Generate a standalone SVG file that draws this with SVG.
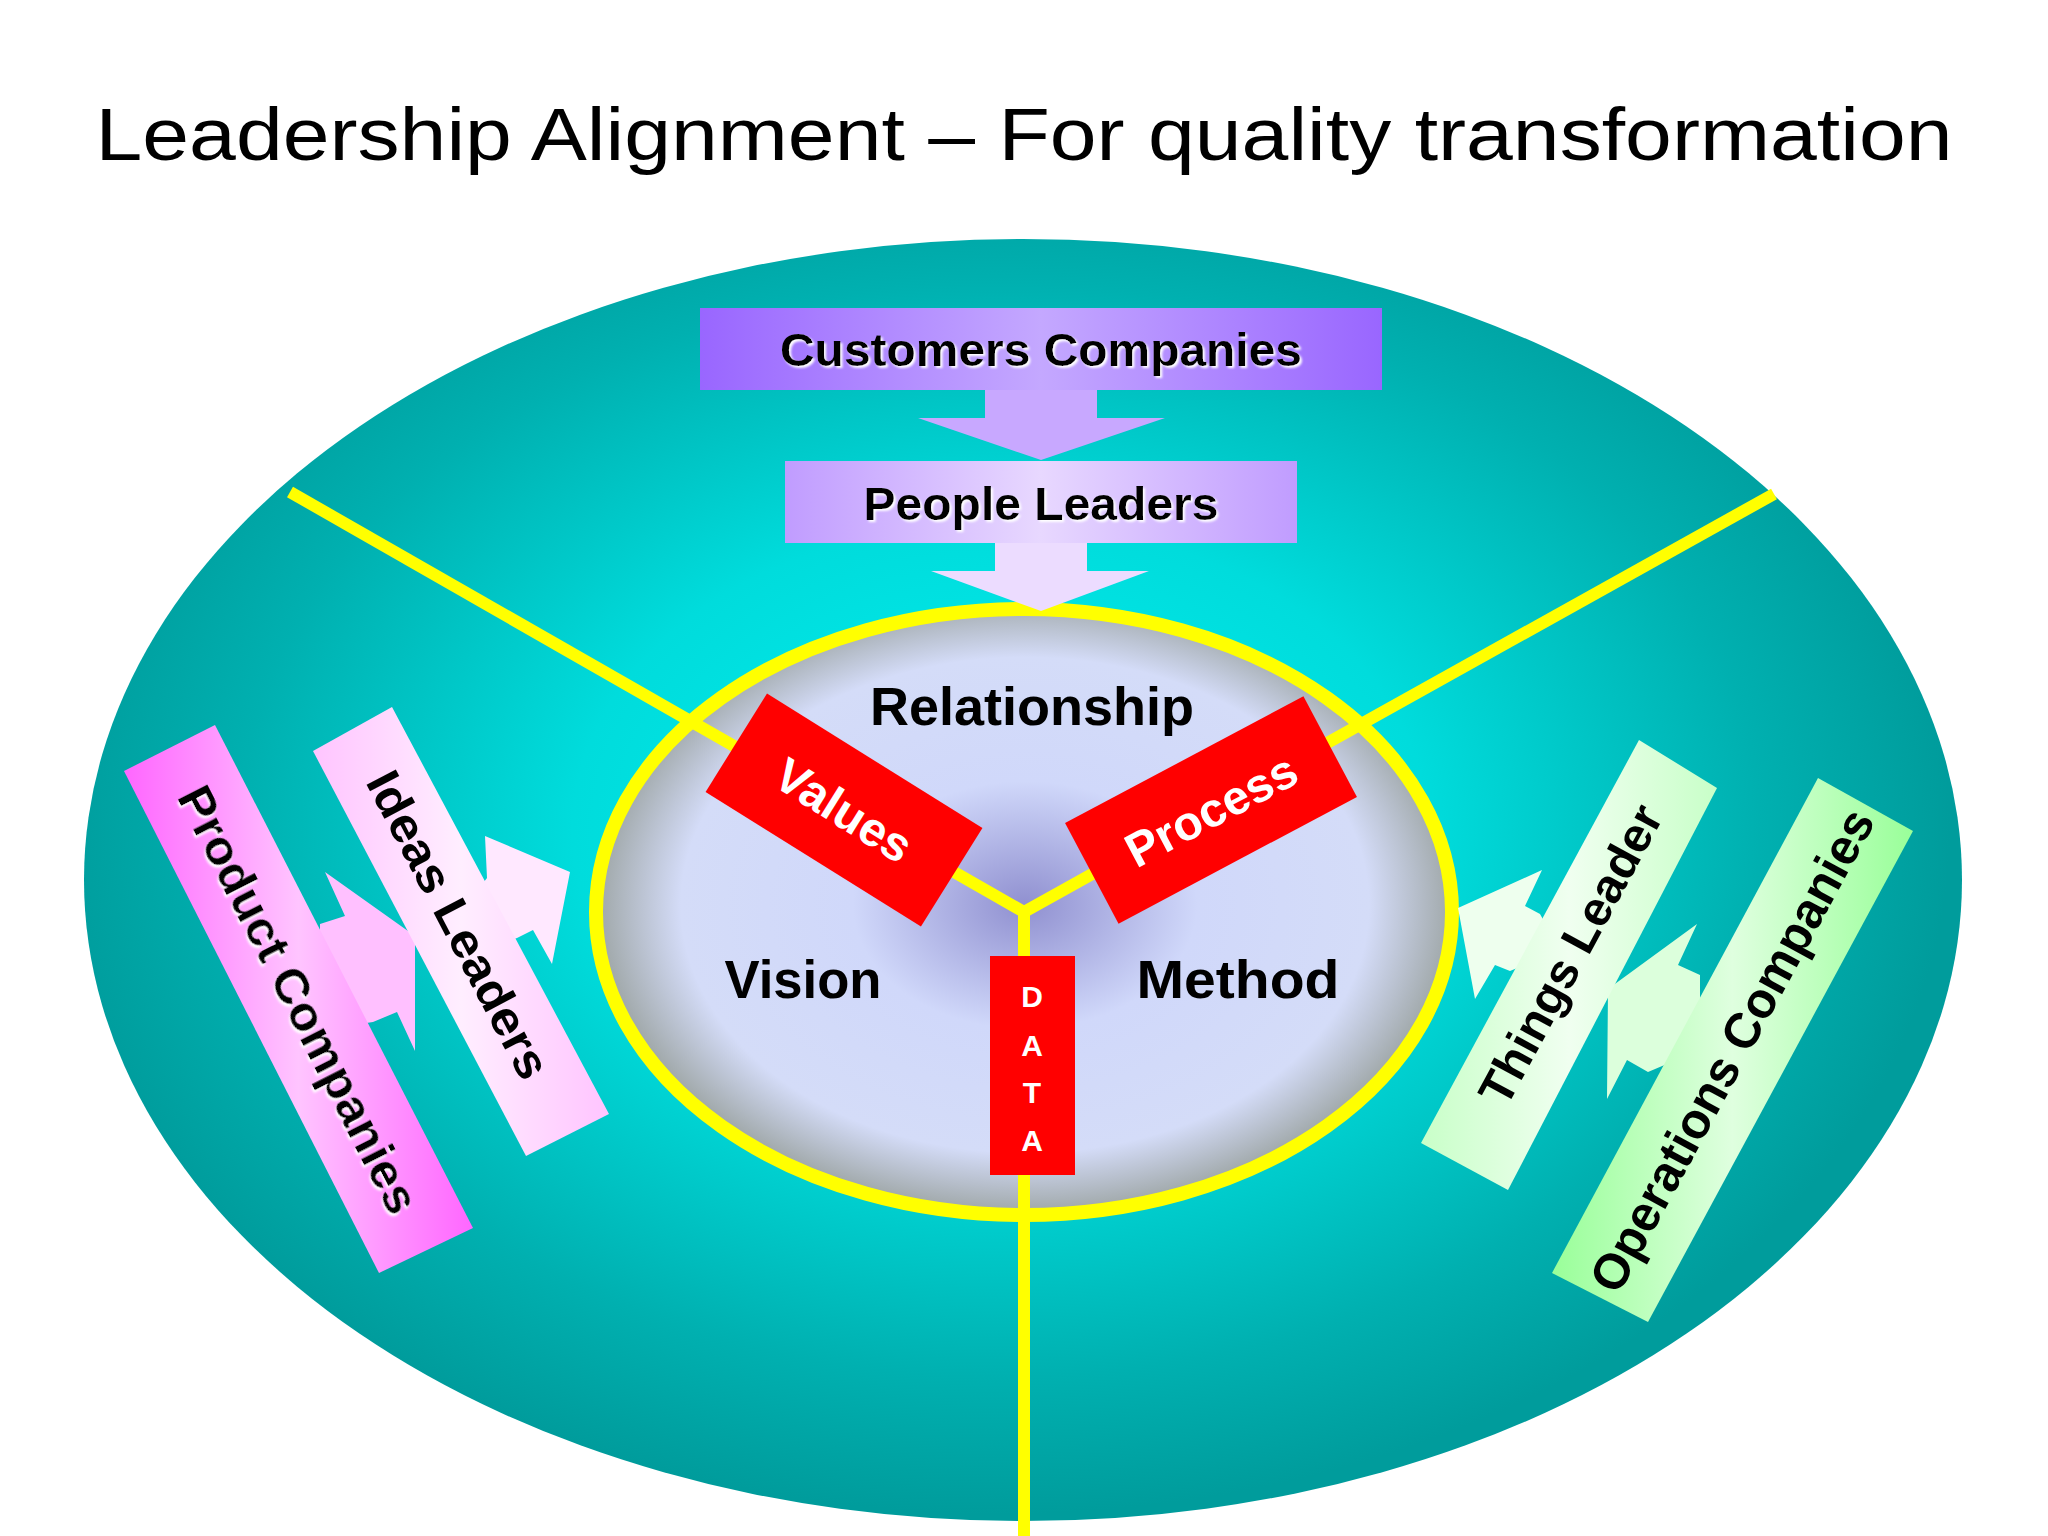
<svg xmlns="http://www.w3.org/2000/svg" width="2048" height="1536" viewBox="0 0 2048 1536">
<defs>
<radialGradient id="gBig" cx="1000" cy="830" r="950" gradientUnits="userSpaceOnUse" gradientTransform="translate(1000 830) scale(1 0.72) translate(-1000 -830)">
<stop offset="0" stop-color="#00f0f0"/><stop offset="0.45" stop-color="#00dcdc"/><stop offset="0.8" stop-color="#00b0b0"/><stop offset="1" stop-color="#009c9c"/>
</radialGradient>
<radialGradient id="gIn" cx="1025" cy="905" r="430" gradientUnits="userSpaceOnUse" gradientTransform="translate(1025 905) scale(1 0.72) translate(-1025 -905)">
<stop offset="0" stop-color="#9090d0"/><stop offset="0.4" stop-color="#d0d8fa"/><stop offset="0.8" stop-color="#d4dcf8"/><stop offset="1" stop-color="#9ea6a6"/>
</radialGradient>
<linearGradient id="gCust" x1="0" y1="0" x2="1" y2="0"><stop offset="0" stop-color="#9966ff"/><stop offset="0.5" stop-color="#c4a8ff"/><stop offset="1" stop-color="#9966ff"/></linearGradient>
<linearGradient id="gPeop" x1="0" y1="0" x2="1" y2="0"><stop offset="0" stop-color="#c09cff"/><stop offset="0.5" stop-color="#e8d8ff"/><stop offset="1" stop-color="#c09cff"/></linearGradient>
<linearGradient id="gProd" x1="0" y1="0" x2="1" y2="0"><stop offset="0" stop-color="#ff66ff"/><stop offset="0.5" stop-color="#ffc4ff"/><stop offset="1" stop-color="#ff66ff"/></linearGradient>
<linearGradient id="gIdea" x1="0" y1="0" x2="1" y2="0"><stop offset="0" stop-color="#ffc4ff"/><stop offset="0.5" stop-color="#ffeeff"/><stop offset="1" stop-color="#ffc4ff"/></linearGradient>
<linearGradient id="gThin" x1="0" y1="0" x2="1" y2="0"><stop offset="0" stop-color="#c8ffc8"/><stop offset="0.5" stop-color="#f0fff0"/><stop offset="1" stop-color="#c8ffc8"/></linearGradient>
<linearGradient id="gOps" x1="0" y1="0" x2="1" y2="0"><stop offset="0" stop-color="#99ff99"/><stop offset="0.5" stop-color="#dfffdf"/><stop offset="1" stop-color="#99ff99"/></linearGradient>
<filter id="glow" x="-10%" y="-30%" width="120%" height="160%"><feDropShadow dx="2" dy="2" stdDeviation="0.8" flood-color="#ffffff"/></filter>
</defs>
<style>
.t{font-family:"Liberation Sans",Arial,sans-serif;font-weight:bold;fill:#000;text-anchor:middle}
.w{font-family:"Liberation Sans",Arial,sans-serif;font-weight:bold;fill:#fff;text-anchor:middle}
.yl{stroke:#ffff00;stroke-width:12;fill:none}
</style>
<rect width="2048" height="1536" fill="#fff"/>
<text x="1024" y="160" font-family="'Liberation Sans',Arial,sans-serif" font-size="74" text-anchor="middle" textLength="1857" lengthAdjust="spacingAndGlyphs" fill="#000">Leadership Alignment – For quality transformation</text>

<g id="outer"><ellipse cx="1023" cy="880" rx="939" ry="641" fill="url(#gBig)"/></g>
<g id="inner"><ellipse cx="1024" cy="912" rx="428" ry="303" fill="url(#gIn)" stroke="#ffff00" stroke-width="14"/></g>

<g id="connectors">
<line class="yl" x1="290" y1="492" x2="1024" y2="912"/>
<line class="yl" x1="1774" y1="494" x2="1024" y2="912"/>
<line class="yl" x1="1024" y1="912" x2="1024" y2="1536"/>
<polygon points="985,390 1097,390 1097,418 1165,418 1041,460 918,418 985,418" fill="#c8a8ff"/>
<polygon points="995,543 1087,543 1087,571 1149,571 1041,611 931,571 995,571" fill="#ecdcff"/>
<polygon points="320,1030 320,924 345,916 325,872 415,936 415,1051 397,1012 373,1022" fill="#ffc0ff"/>
<polygon points="470,900 487,878 485,836 570,872 552,964 533,930 517,938 480,950" fill="#ffe8ff"/>
<polygon points="1560,950 1540,914 1525,906 1542,870 1458,908 1475,999 1495,965 1510,971" fill="#eeffee"/>
<polygon points="1700,1050 1700,975 1678,965 1697,924 1608,989 1607,1099 1627,1060 1648,1072" fill="#dcffdc"/>
</g>

<g id="customers"><rect x="700" y="308" width="682" height="82" fill="url(#gCust)"/>
<text class="t" x="1041" y="366" font-size="46" textLength="522" lengthAdjust="spacingAndGlyphs" filter="url(#glow)">Customers Companies</text></g>
<g id="people"><rect x="785" y="461" width="512" height="82" fill="url(#gPeop)"/>
<text class="t" x="1041" y="520" font-size="46" textLength="355" lengthAdjust="spacingAndGlyphs" filter="url(#glow)">People Leaders</text></g>

<g id="relationship"><text class="t" x="1032" y="725" font-size="54" textLength="324" lengthAdjust="spacingAndGlyphs">Relationship</text></g>
<g id="vision"><text class="t" x="803" y="998" font-size="54" textLength="157" lengthAdjust="spacingAndGlyphs">Vision</text></g>
<g id="method"><text class="t" x="1238" y="998" font-size="54" textLength="203" lengthAdjust="spacingAndGlyphs">Method</text></g>

<g id="values" transform="translate(844 810) rotate(32)"><rect x="-127" y="-58" width="254" height="116" fill="#ff0000"/>
<text class="w" x="0" y="17" font-size="48">Values</text></g>
<g id="process" transform="translate(1211 810) rotate(-28)"><rect x="-135" y="-57" width="270" height="114" fill="#ff0000"/>
<text class="w" x="0" y="17" font-size="48">Process</text></g>
<g id="data"><rect x="990" y="956" width="85" height="219" fill="#ff0000"/>
<text class="w" x="1032" y="1007" font-size="30">D</text>
<text class="w" x="1032" y="1056" font-size="30">A</text>
<text class="w" x="1032" y="1103" font-size="30">T</text>
<text class="w" x="1032" y="1151" font-size="30">A</text></g>

<g id="product"><polygon points="124,771 215,725 473,1228 379,1273" fill="url(#gProd)"/>
<text class="t" transform="translate(298 1000) rotate(63)" x="0" y="16" font-size="48" textLength="473" lengthAdjust="spacingAndGlyphs" filter="url(#glow)">Product Companies</text></g>
<g id="ideas"><polygon points="313,751 392,707 609,1114 526,1156" fill="url(#gIdea)"/>
<text class="t" transform="translate(458 925) rotate(62.4)" x="0" y="16" font-size="48" textLength="340" lengthAdjust="spacingAndGlyphs">Ideas Leaders</text></g>
<g id="things"><polygon points="1639,740 1717,788 1508,1190 1421,1143" fill="url(#gThin)"/>
<text class="t" transform="translate(1571 955) rotate(-61.6)" x="0" y="16" font-size="48" textLength="333" lengthAdjust="spacingAndGlyphs">Things Leader</text></g>
<g id="operations"><polygon points="1818,778 1913,831 1648,1322 1552,1273" fill="url(#gOps)"/>
<text class="t" transform="translate(1733 1051) rotate(-61.5)" x="0" y="16" font-size="50" textLength="541" lengthAdjust="spacingAndGlyphs">Operations Companies</text></g>
</svg>
